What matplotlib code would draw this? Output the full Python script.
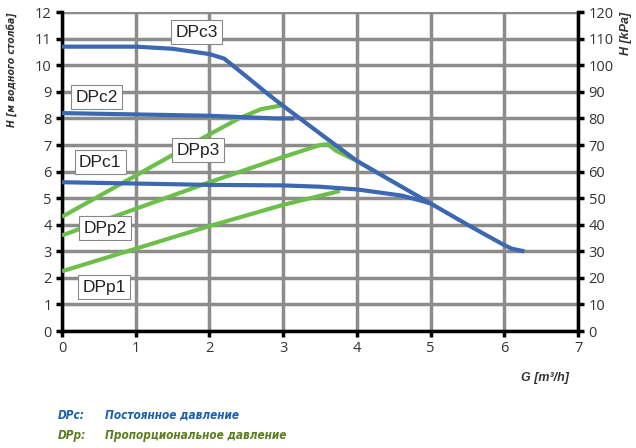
import matplotlib
matplotlib.use("Agg")
import matplotlib.pyplot as plt

# curves: flow G [m3/h] vs head H [m]
DPC3_G = [0, 1.0, 1.5, 2.0, 2.2, 2.5, 2.8, 3.0, 3.5, 4.0, 4.5, 5.0, 5.5, 6.0, 6.1, 6.27]
DPC3_H = [10.7, 10.7, 10.62, 10.42, 10.25, 9.58, 8.9, 8.47, 7.43, 6.4, 5.6, 4.8, 4.0, 3.23, 3.1, 3.0]
DPC2_G = [0, 1.0, 2.0, 2.9, 3.15]
DPC2_H = [8.2, 8.15, 8.1, 8.0, 8.0]
DPC1_G = [0, 1.0, 2.0, 3.0, 3.5, 4.0, 4.6, 4.85, 5.0]
DPC1_H = [5.6, 5.55, 5.5, 5.48, 5.43, 5.33, 5.1, 4.92, 4.8]
DPP3_G = [0, 1.0, 2.0, 2.4, 2.7, 3.0]
DPP3_H = [4.3, 5.85, 7.4, 8.0, 8.35, 8.5]
DPP2_G = [0, 1.0, 2.0, 3.0, 3.5, 3.6, 3.72, 4.0, 4.25]
DPP2_H = [3.6, 4.6, 5.6, 6.55, 7.0, 7.03, 6.78, 6.4, 6.0]
DPP1_G = [0, 1.0, 2.0, 3.0, 3.77]
DPP1_H = [2.25, 3.1, 3.95, 4.75, 5.27]

LABELS = ["DPc3", "DPc2", "DPc1", "DPp3", "DPp2", "DPp1"]
LABEL_G = [1.83, 0.47, 0.52, 1.85, 0.58, 0.57]
LABEL_H = [11.25, 8.8, 6.35, 6.8, 3.87, 1.65]

BLUE = "#3c68b2"
GREEN = "#6cc04a"

fig = plt.figure(figsize=(6.36, 4.48), dpi=100)
ax = fig.add_axes([0.0975, 0.261, 0.8115, 0.712])

for g, h in [(DPP3_G, DPP3_H), (DPP2_G, DPP2_H), (DPP1_G, DPP1_H)]:
    ax.plot(g, h, color=GREEN, linewidth=3, solid_capstyle="butt", zorder=3)
for g, h in [(DPC3_G, DPC3_H), (DPC2_G, DPC2_H), (DPC1_G, DPC1_H)]:
    ax.plot(g, h, color=BLUE, linewidth=3, solid_capstyle="butt", zorder=4)

for txt, g, h in zip(LABELS, LABEL_G, LABEL_H):
    ax.text(g, h, txt, ha="center", va="center", fontsize=12.5,
            family="Liberation Sans", color="#222222", zorder=5,
            bbox=dict(boxstyle="square,pad=0.25", fc="white", ec="#888888", lw=0.8))

ax.set_xlim(0, 7)
ax.set_ylim(0, 12)
ax.set_xticks(range(0, 8))
ax.set_yticks(range(0, 13))
ax.grid(True, color="#8c8c8c", linewidth=2.5)
ax.set_axisbelow(True)
for side in ["left", "bottom"]:
    ax.spines[side].set_linewidth(2.5)
    ax.spines[side].set_color("black")
ax.spines["top"].set_visible(False)
ax.spines["right"].set_visible(False)
ax.tick_params(length=4, width=2.5, colors="black", labelsize=10.5, labelcolor="#333333")
for lab in ax.get_xticklabels() + ax.get_yticklabels():
    lab.set_family("Open Sans")

ax2 = ax.twinx()
ax2.set_ylim(0, 120)
ax2.set_yticks(range(0, 130, 10))
ax2.spines["right"].set_linewidth(2.5)
ax2.spines["right"].set_color("black")
for side in ["left", "bottom", "top"]:
    ax2.spines[side].set_visible(False)
ax2.tick_params(length=4, width=2.5, colors="black", labelsize=10.5, labelcolor="#333333")
for lab in ax2.get_yticklabels():
    lab.set_family("Open Sans")

lab_kw = dict(family="DejaVu Sans", stretch="condensed", style="italic", weight="bold")
fig.text(0.018, 0.973, "H [м водного столба]", rotation=90, ha="center", va="top",
         fontsize=7.5, color="#333333", **lab_kw)
fig.text(0.985, 0.973, "H [kPa]", rotation=90, ha="center", va="top",
         fontsize=9, color="#333333", family="Liberation Sans", style="italic", weight="bold")
fig.text(0.857, 0.157, "G [m³/h]", ha="center", va="center",
         fontsize=9, color="#333333", family="Liberation Sans", style="italic", weight="bold")

fig.text(0.091, 0.073, "DPc:", ha="left", va="center", fontsize=8.5, color="#1a5fb0", **lab_kw)
fig.text(0.165, 0.073, "Постоянное давление", ha="left", va="center", fontsize=8.5,
         color="#1a5fb0", **lab_kw)
fig.text(0.091, 0.028, "DPp:", ha="left", va="center", fontsize=8.5, color="#5b7d1f", **lab_kw)
fig.text(0.165, 0.028, "Пропорциональное давление", ha="left", va="center", fontsize=8.5,
         color="#5b7d1f", **lab_kw)

fig.savefig("out.png", dpi=100)
